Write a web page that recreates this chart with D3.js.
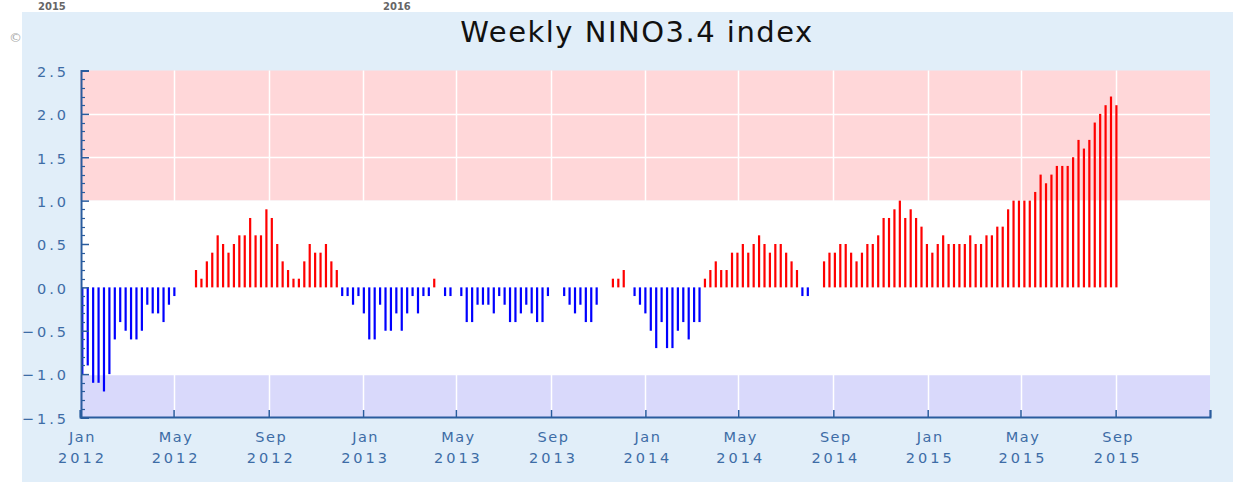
<!DOCTYPE html>
<html>
<head>
<meta charset="utf-8">
<script src="https://cdn.jsdelivr.net/npm/d3@7"></script>
<style>
  html, body { margin: 0; padding: 0; background: #ffffff; }
  svg { display: block; }
</style>
</head>
<body>
<svg id="chart" width="1233" height="482"></svg>
<script>
// ---- data (weekly Niño 3.4 SST anomaly, °C), first week centred 2012-01-04 ----
const firstWeek = "2012-01-04";
const values = [
  -1.0, -0.9, -1.1, -1.1, -1.2, -1.0, -0.6, -0.4, -0.5, -0.6,
  -0.6, -0.5, -0.2, -0.3, -0.3, -0.4, -0.2, -0.1,  0.0,  0.0,
   0.0,  0.2,  0.1,  0.3,  0.4,  0.6,  0.5,  0.4,  0.5,  0.6,
   0.6,  0.8,  0.6,  0.6,  0.9,  0.8,  0.5,  0.3,  0.2,  0.1,
   0.1,  0.3,  0.5,  0.4,  0.4,  0.5,  0.3,  0.2, -0.1, -0.1,
  -0.2, -0.1, -0.3, -0.6, -0.6, -0.2, -0.5, -0.5, -0.3, -0.5,
  -0.3, -0.1, -0.3, -0.1, -0.1,  0.1,  0.0, -0.1, -0.1,  0.0,
  -0.1, -0.4, -0.4, -0.2, -0.2, -0.2, -0.3, -0.1, -0.2, -0.4,
  -0.4, -0.3, -0.2, -0.3, -0.4, -0.4, -0.1,  0.0,  0.0, -0.1,
  -0.2, -0.3, -0.2, -0.4, -0.4, -0.2,  0.0,  0.0,  0.1,  0.1,
   0.2,  0.0, -0.1, -0.2, -0.3, -0.5, -0.7, -0.4, -0.7, -0.7,
  -0.5, -0.4, -0.6, -0.4, -0.4,  0.1,  0.2,  0.3,  0.2,  0.2,
   0.4,  0.4,  0.5,  0.4,  0.5,  0.6,  0.5,  0.4,  0.5,  0.5,
   0.4,  0.3,  0.2, -0.1, -0.1,  0.0,  0.0,  0.3,  0.4,  0.4,
   0.5,  0.5,  0.4,  0.3,  0.4,  0.5,  0.5,  0.6,  0.8,  0.8,
   0.9,  1.0,  0.8,  0.9,  0.8,  0.7,  0.5,  0.4,  0.5,  0.6,
   0.5,  0.5,  0.5,  0.5,  0.6,  0.5,  0.5,  0.6,  0.6,  0.7,
   0.7,  0.9,  1.0,  1.0,  1.0,  1.0,  1.1,  1.3,  1.2,  1.3,
   1.4,  1.4,  1.4,  1.5,  1.7,  1.6,  1.7,  1.9,  2.0,  2.1,
   2.2,  2.1
];
const xDomain = ["2012-01-01", "2016-01-01"];
const xTickDates = ["2012-01-01","2012-05-01","2012-09-01","2013-01-01","2013-05-01","2013-09-01",
                    "2014-01-01","2014-05-01","2014-09-01","2015-01-01","2015-05-01","2015-09-01","2016-01-01"];
const xTickMonths = ["Jan","May","Sep","Jan","May","Sep","Jan","May","Sep","Jan","May","Sep",""];
const xTickYears  = ["2012","2012","2012","2013","2013","2013","2014","2014","2014","2015","2015","2015",""];
const yDomain = [-1.5, 2.5];
const yTicks = [-1.5, -1.0, -0.5, 0.0, 0.5, 1.0, 1.5, 2.0, 2.5];
const bands = [
  { from: 1.0,  to: 2.5,  color: "#ffd7d9" },
  { from: -1.0, to: 1.0,  color: "#ffffff" },
  { from: -1.5, to: -1.0, color: "#d9d9fb" }
];
const title = "Weekly NINO3.4 index";

// ---- drawing ----
const parse = d3.timeParse("%Y-%m-%d");
const svg = d3.select("#chart");

// outer panel
svg.append("rect").attr("x", 22).attr("y", 12).attr("width", 1211).attr("height", 470).attr("fill", "#e1eef9");

// remnants at top of page
svg.append("text").attr("x", 38).attr("y", 10).text("2015")
  .attr("font-family", "DejaVu Sans").attr("font-size", 10).attr("font-weight", "bold").attr("fill", "#666");
svg.append("text").attr("x", 383).attr("y", 10).text("2016")
  .attr("font-family", "DejaVu Sans").attr("font-size", 10).attr("font-weight", "bold").attr("fill", "#666");
svg.append("text").attr("x", 9).attr("y", 42).text("©")
  .attr("font-family", "DejaVu Sans").attr("font-size", 13).attr("fill", "#aaa");

const x = d3.scaleTime().domain(xDomain.map(parse)).range([80, 1210]);
const y = d3.scaleLinear().domain(yDomain).range([417.5, 70.5]);

// bands
svg.append("g").selectAll("rect").data(bands).join("rect")
  .attr("x", x.range()[0]).attr("width", x.range()[1] - x.range()[0])
  .attr("y", d => y(d.to)).attr("height", d => y(d.from) - y(d.to))
  .attr("fill", d => d.color);

// white grid
const grid = svg.append("g").attr("stroke", "#ffffff").attr("stroke-width", 1.5);
grid.selectAll("line.v").data(xTickDates.slice(1, -1)).join("line")
  .attr("x1", d => Math.round(x(parse(d))) + 0.5).attr("x2", d => Math.round(x(parse(d))) + 0.5)
  .attr("y1", y(2.5)).attr("y2", y(-1.5));
grid.selectAll("line.h").data(yTicks.filter(v => v > -1.5 && v < 2.5)).join("line")
  .attr("x1", x.range()[0]).attr("x2", x.range()[1])
  .attr("y1", d => Math.round(y(d)) + 0.5).attr("y2", d => Math.round(y(d)) + 0.5);

// bars
const start = parse(firstWeek);
const weeks = values.map((v, i) => ({ date: d3.timeDay.offset(start, 7 * i), v }));
svg.append("g").selectAll("rect").data(weeks.filter(d => d.v !== 0)).join("rect")
  .attr("x", d => x(d.date) - 1.1)
  .attr("width", 2.2)
  .attr("y", d => y(Math.max(0, d.v)))
  .attr("height", d => Math.abs(y(d.v) - y(0)))
  .attr("fill", d => d.v > 0 ? "#ff0000" : "#0000ff");

const axisColor = "#2a5c9e";
const labelColor = "#3d6ca6";

// y axis
const yAxis = d3.axisLeft(y).tickValues(yTicks).tickSize(-8).tickPadding(12).tickFormat(d3.format(".1f"));
const gy = svg.append("g").attr("transform", "translate(81,0)").call(yAxis);
gy.select(".domain").attr("stroke", axisColor).attr("stroke-width", 2);
gy.selectAll(".tick line").attr("stroke", axisColor).attr("stroke-width", 1.5);
gy.selectAll(".tick text").attr("fill", labelColor).attr("font-family", "DejaVu Sans")
  .attr("font-size", 14.5).attr("letter-spacing", 3).attr("dy", "0.4em");
// minor y ticks
const minor = d3.range(-15, 26).map(k => k / 10).filter(v => yTicks.indexOf(v) < 0);
svg.append("g").selectAll("line").data(minor).join("line")
  .attr("x1", 81).attr("x2", 85)
  .attr("y1", d => Math.round(y(d)) + 0.5).attr("y2", d => Math.round(y(d)) + 0.5)
  .attr("stroke", axisColor).attr("stroke-width", 1.2);

// x axis
const xAxis = d3.axisBottom(x).tickValues(xTickDates.map(parse)).tickSize(-7).tickFormat("");
const gx = svg.append("g").attr("transform", "translate(0,417)").call(xAxis);
gx.select(".domain").attr("stroke", axisColor).attr("stroke-width", 2);
gx.selectAll(".tick line").attr("stroke", axisColor).attr("stroke-width", 1.5);
gx.selectAll(".tick").each(function(d, i) {
  const g = d3.select(this);
  g.append("text").attr("y", 25).attr("x", 2).attr("text-anchor", "middle").text(xTickMonths[i])
    .attr("fill", labelColor).attr("font-family", "DejaVu Sans").attr("font-size", 14.5).attr("letter-spacing", 1.5);
  g.append("text").attr("y", 46).attr("x", 2).attr("text-anchor", "middle").text(xTickYears[i])
    .attr("fill", labelColor).attr("font-family", "DejaVu Sans").attr("font-size", 14.5).attr("letter-spacing", 3);
});

// title
svg.append("text").attr("x", 637).attr("y", 42).attr("text-anchor", "middle").text(title)
  .attr("font-family", "DejaVu Sans").attr("font-size", 29).attr("letter-spacing", 1.5).attr("fill", "#111");
</script>
</body>
</html>
